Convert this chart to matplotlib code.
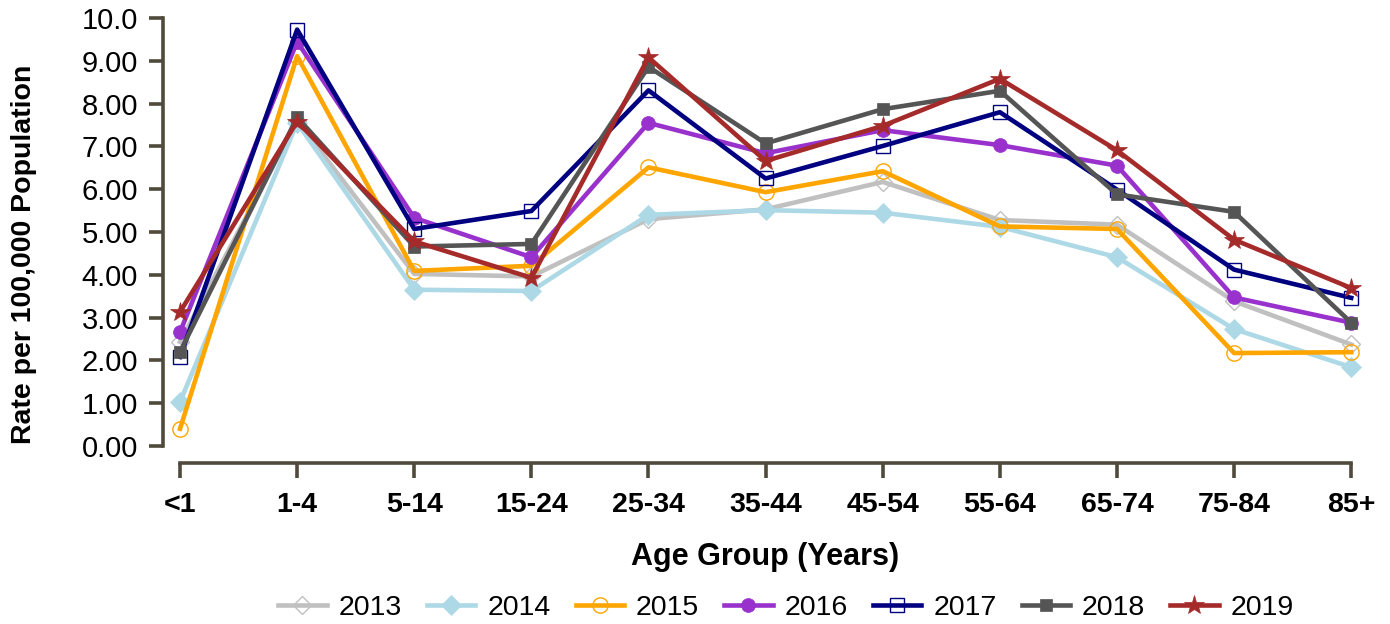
import numpy as np
import matplotlib
matplotlib.use("Agg")
import matplotlib.pyplot as plt

plt.rcParams['font.family'] = ['Liberation Sans', 'DejaVu Sans']

# age groups on the x axis
age_groups = ['<1', '1-4', '5-14', '15-24', '25-34', '35-44',
              '45-54', '55-64', '65-74', '75-84', '85+']

# rates per 100,000
r2013 = [2.43, 7.60, 4.02, 3.96, 5.30, 5.53, 6.17, 5.28, 5.17, 3.38, 2.37]
r2014 = [1.03, 7.55, 3.65, 3.62, 5.40, 5.51, 5.45, 5.12, 4.41, 2.73, 1.84]
r2015 = [0.40, 9.11, 4.09, 4.21, 6.51, 5.93, 6.42, 5.13, 5.07, 2.17, 2.19]
r2016 = [2.66, 9.45, 5.33, 4.41, 7.55, 6.84, 7.38, 7.03, 6.55, 3.47, 2.88]
r2017 = [2.08, 9.73, 5.07, 5.49, 8.31, 6.25, 7.01, 7.80, 5.99, 4.12, 3.46]
r2018 = [2.20, 7.68, 4.66, 4.72, 8.86, 7.07, 7.87, 8.30, 5.88, 5.47, 2.88]
r2019 = [3.13, 7.58, 4.78, 3.93, 9.08, 6.66, 7.48, 8.58, 6.91, 4.82, 3.69]

ytick_vals = [0, 1, 2, 3, 4, 5, 6, 7, 8, 9, 10]
ytick_labels = ['0.00', '1.00', '2.00', '3.00', '4.00', '5.00',
                '6.00', '7.00', '8.00', '9.00', '10.0']

# year, values, color, marker, filled, marker size
series = [
    ('2013', r2013, '#C0C0C0', 'D', False, 9),
    ('2014', r2014, '#ADD8E6', 'D', True, 10),
    ('2015', r2015, '#FFA500', 'o', False, 11),
    ('2016', r2016, '#9932CC', 'o', True, 10),
    ('2017', r2017, '#000080', 's', False, 10),
    ('2018', r2018, '#555555', 's', True, 9),
    ('2019', r2019, '#A52A2A', '*', True, 15),
]

spine_col = '#4F4A3C'

fig = plt.figure(figsize=(13.9, 6.24), dpi=100)
ax = fig.add_axes([0.1173, 0.2580, 0.859, 0.7165])

x = np.arange(len(age_groups))
for name, vals, col, mk, filled, ms in series:
    ax.plot(x, vals, color=col, lw=3.3, marker=mk, ms=ms,
            markerfacecolor=col if filled else 'none',
            markeredgecolor=col, markeredgewidth=1.0 if not filled else 0.5,
            label=name, clip_on=False)

ax.set_xlim(-0.145, 10.05)
ax.set_ylim(-0.40, 10.05)
ax.set_xticks(x)
ax.set_xticklabels(age_groups, fontsize=20.5, fontweight='bold')
ax.set_yticks(ytick_vals)
ax.set_yticklabels(ytick_labels, fontsize=21)

for s in ['top', 'right']:
    ax.spines[s].set_visible(False)
ax.spines['left'].set_bounds(0, 10)
ax.spines['bottom'].set_bounds(0, 10)
for s in ['left', 'bottom']:
    ax.spines[s].set_color(spine_col)
    ax.spines[s].set_linewidth(2.6)
ax.tick_params(axis='y', length=10, width=2.6, color=spine_col, pad=8)
ax.tick_params(axis='x', length=11, width=2.6, color=spine_col, pad=10)

fig.text(0.5504, 1 - 557 / 624, 'Age Group (Years)', fontsize=22,
         fontweight='bold', ha='center', va='center')
fig.text(24 / 1390, 1 - 254 / 624, 'Rate per 100,000 Population',
         fontsize=20.5, fontweight='bold', rotation=90,
         ha='center', va='center')

fig.legend(loc='center', bbox_to_anchor=(0.5655, 1 - 608 / 624),
           ncol=7, frameon=False, fontsize=20.5, handlelength=1.7,
           handletextpad=0.42, columnspacing=0.88, borderpad=0)

fig.savefig('out.png', dpi=100)
